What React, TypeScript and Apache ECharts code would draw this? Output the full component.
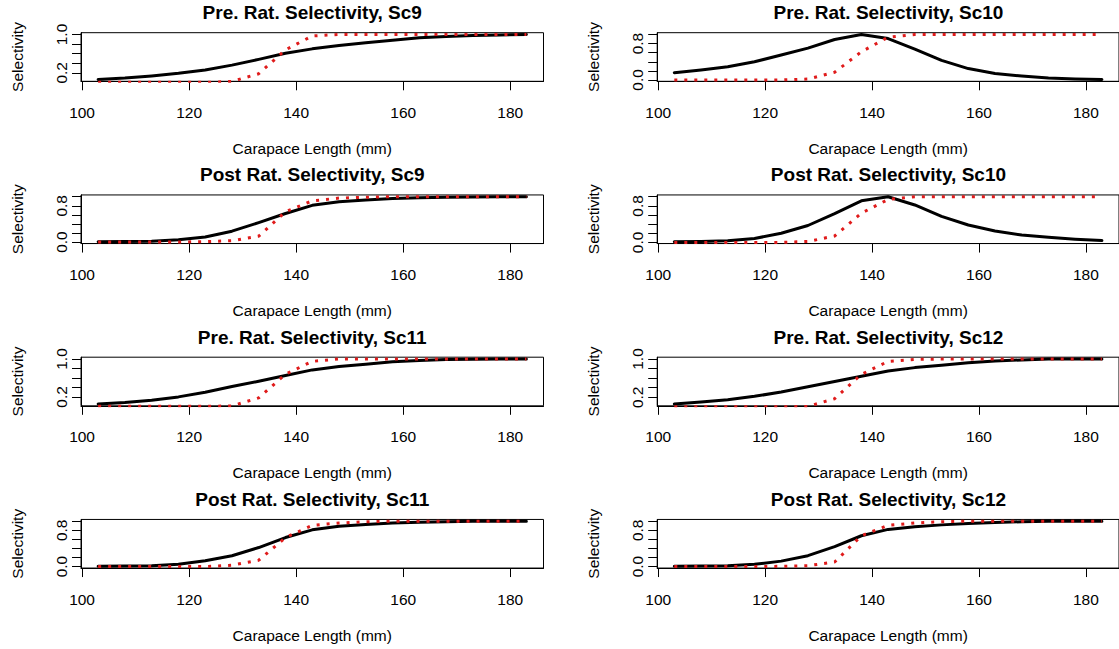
import React, { useEffect, useRef } from "react";
import * as echarts from "echarts";

// Carapace length (mm)
const lengths = [103, 108, 113, 118, 123, 128, 133, 138, 143, 148, 153, 158, 163, 168, 173, 178, 183];

const preSc9Black = [0.06, 0.09, 0.135, 0.19, 0.26, 0.36, 0.48, 0.61, 0.7, 0.77, 0.83, 0.88, 0.93, 0.96, 0.98, 0.99, 1.0];
const preSc9Red = [0, 0, 0, 0, 0, 0.02, 0.18, 0.68, 0.97, 1, 1, 1, 1, 1, 1, 1, 1];

const preSc10Black = [0.16, 0.22, 0.29, 0.4, 0.55, 0.7, 0.89, 1.0, 0.91, 0.68, 0.43, 0.25, 0.14, 0.086, 0.043, 0.02, 0.01];
const preSc10Red = [0, 0, 0, 0, 0, 0.02, 0.17, 0.62, 0.94, 1, 1, 1, 1, 1, 1, 1, 1];

const postSc9Black = [0.007, 0.014, 0.02, 0.05, 0.11, 0.24, 0.43, 0.63, 0.81, 0.89, 0.93, 0.96, 0.98, 0.99, 0.995, 1.0, 1.0];
const postSc9Red = [0, 0, 0, 0, 0.01, 0.03, 0.13, 0.67, 0.91, 0.97, 0.99, 1, 1, 1, 1, 1, 1];

const postSc10Black = [0.014, 0.02, 0.036, 0.086, 0.2, 0.37, 0.63, 0.91, 1.0, 0.82, 0.57, 0.38, 0.25, 0.16, 0.11, 0.07, 0.04];
const postSc10Red = [0, 0, 0, 0, 0, 0.02, 0.14, 0.64, 0.94, 1, 1, 1, 1, 1, 1, 1, 1];

const preSc11Black = [0.05, 0.08, 0.13, 0.2, 0.3, 0.42, 0.53, 0.65, 0.77, 0.84, 0.89, 0.94, 0.97, 0.99, 0.995, 1.0, 1.0];
const preSc11Red = [0, 0, 0, 0, 0, 0.01, 0.18, 0.68, 0.95, 1, 1, 1, 1, 1, 1, 1, 1];

const preSc12Black = [0.06, 0.1, 0.15, 0.22, 0.31, 0.42, 0.53, 0.64, 0.75, 0.82, 0.87, 0.92, 0.96, 0.98, 1.0, 1.0, 1.0];
const preSc12Red = [0, 0, 0, 0, 0, 0.01, 0.17, 0.68, 0.95, 0.99, 1, 1, 1, 1, 1, 1, 1];

const postSc11Black = [0.007, 0.01, 0.02, 0.05, 0.13, 0.24, 0.42, 0.64, 0.81, 0.89, 0.93, 0.96, 0.98, 0.99, 1.0, 1.0, 1.0];
const postSc11Red = [0, 0, 0, 0, 0, 0.03, 0.14, 0.64, 0.91, 0.96, 0.99, 1, 1, 1, 1, 1, 1];

const postSc12Black = [0.007, 0.01, 0.02, 0.05, 0.12, 0.24, 0.44, 0.68, 0.82, 0.88, 0.92, 0.95, 0.97, 0.99, 1.0, 1.0, 1.0];
const postSc12Red = [0, 0, 0, 0, 0.005, 0.02, 0.1, 0.68, 0.91, 0.96, 0.99, 1, 1, 1, 1, 1, 1];

// Tick values
const xTicks = [100, 120, 140, 160, 180];
const yTicksHigh = [0.2, 0.4, 0.6, 0.8, 1.0];
const yLabelsHigh = [0.2, 1.0];
const yTicksFull = [0, 0.2, 0.4, 0.6, 0.8, 1.0];
const yLabelsFull = [0, 0.8];

const xTitle = "Carapace Length (mm)";
const yTitle = "Selectivity";

const panels = [
  { title: "Pre. Rat. Selectivity, Sc9", black: preSc9Black, red: preSc9Red, ticks: yTicksHigh, labels: yLabelsHigh },
  { title: "Pre. Rat. Selectivity, Sc10", black: preSc10Black, red: preSc10Red, ticks: yTicksFull, labels: yLabelsFull },
  { title: "Post Rat. Selectivity, Sc9", black: postSc9Black, red: postSc9Red, ticks: yTicksFull, labels: yLabelsFull },
  { title: "Post Rat. Selectivity, Sc10", black: postSc10Black, red: postSc10Red, ticks: yTicksFull, labels: yLabelsFull },
  { title: "Pre. Rat. Selectivity, Sc11", black: preSc11Black, red: preSc11Red, ticks: yTicksHigh, labels: yLabelsHigh },
  { title: "Pre. Rat. Selectivity, Sc12", black: preSc12Black, red: preSc12Red, ticks: yTicksHigh, labels: yLabelsHigh },
  { title: "Post Rat. Selectivity, Sc11", black: postSc11Black, red: postSc11Red, ticks: yTicksFull, labels: yLabelsFull },
  { title: "Post Rat. Selectivity, Sc12", black: postSc12Black, red: postSc12Red, ticks: yTicksFull, labels: yLabelsFull },
];

const FONT = "'Liberation Sans', Arial, Helvetica, sans-serif";
const COL_LEFT = [81, 657.2];
const GRID_W = 462.5;
const ROW_TOP0 = 32.7;
const ROW_STEP = 162.25;
const GRID_H = 48.6;

export default function App() {
  const ref = useRef<HTMLDivElement>(null);

  useEffect(() => {
    if (!ref.current) return;
    const chart = echarts.init(ref.current, null, { renderer: "svg" });

    const grids: any[] = [];
    const xAxes: any[] = [];
    const yAxes: any[] = [];
    const series: any[] = [];
    const graphics: any[] = [];

    panels.forEach((p, i) => {
      const col = i % 2;
      const row = Math.floor(i / 2);
      const left = COL_LEFT[col];
      const top = ROW_TOP0 + row * ROW_STEP;
      grids.push({
        left,
        top,
        width: GRID_W,
        height: GRID_H,
        show: true,
        borderColor: "#000",
        borderWidth: 1,
        backgroundColor: "transparent",
        containLabel: false,
      });
      const bmin = Math.min(...p.black);
      const bmax = Math.max(...p.black);
      const r = bmax - bmin;
      xAxes.push({
        type: "value",
        gridIndex: i,
        min: 99.8,
        max: 186.2,
        axisLine: { show: true, onZero: false, lineStyle: { color: "#000", width: 1 } },
        splitLine: { show: false },
        axisTick: { show: true, length: 9, customValues: xTicks, lineStyle: { color: "#000", width: 1 } },
        axisLabel: {
          customValues: xTicks,
          color: "#000",
          fontSize: 15.5,
          fontFamily: FONT,
          margin: 23,
        },
        name: xTitle,
        nameLocation: "middle",
        nameGap: 59,
        nameTextStyle: { color: "#000", fontSize: 15.5, fontFamily: FONT },
      });
      yAxes.push({
        type: "value",
        gridIndex: i,
        min: bmin - 0.04 * r,
        max: bmax + 0.04 * r,
        axisLine: { show: true, onZero: false, lineStyle: { color: "#000", width: 1 } },
        splitLine: { show: false },
        axisTick: { show: true, length: 9, customValues: p.ticks, lineStyle: { color: "#000", width: 1 } },
        axisLabel: {
          customValues: p.labels,
          rotate: 90,
          color: "#000",
          fontSize: 15.5,
          fontFamily: FONT,
          margin: 12,
          formatter: (v: number) => v.toFixed(1),
        },
        name: yTitle,
        nameLocation: "middle",
        nameRotate: 90,
        nameGap: 56,
        nameTextStyle: { color: "#000", fontSize: 15.5, fontFamily: FONT },
      });
      series.push({
        type: "line",
        xAxisIndex: i,
        yAxisIndex: i,
        data: lengths.map((x, k) => [x, p.black[k]]),
        showSymbol: false,
        symbol: "none",
        lineStyle: { color: "#000", width: 3, cap: "round", join: "round" },
        clip: true,
        z: 2,
      });
      series.push({
        type: "line",
        xAxisIndex: i,
        yAxisIndex: i,
        data: lengths.map((x, k) => [x, p.red[k]]),
        showSymbol: false,
        symbol: "none",
        lineStyle: { color: "#e01b1b", width: 3, type: [3, 7], cap: "butt" },
        clip: true,
        z: 3,
      });
      graphics.push({
        type: "text",
        x: left + GRID_W / 2,
        y: top - 20,
        style: {
          text: p.title,
          align: "center",
          verticalAlign: "middle",
          fill: "#000",
          font: `bold 19px ${FONT}`,
        },
      });
    });

    chart.setOption({
      animation: false,
      backgroundColor: "#fff",
      grid: grids,
      xAxis: xAxes,
      yAxis: yAxes,
      series,
      graphic: graphics,
    });
    return () => chart.dispose();
  }, []);

  return (
    <div
      ref={ref}
      style={{ position: "fixed", left: 0, top: 0, width: 1119, height: 649, background: "#fff" }}
    />
  );
}
